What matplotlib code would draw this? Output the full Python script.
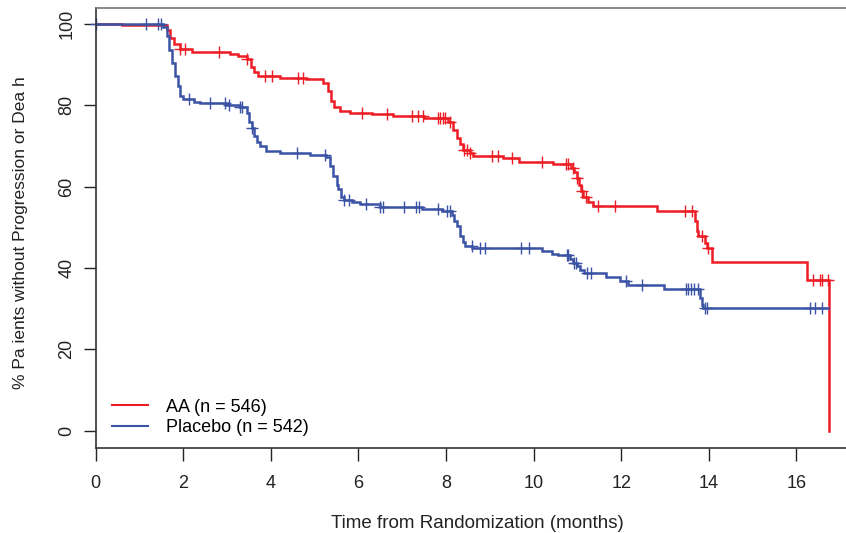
import numpy as np
import matplotlib
matplotlib.use("Agg")
import matplotlib.pyplot as plt

plt.rcParams['font.family'] = ['Liberation Sans', 'DejaVu Sans']

# ---- data: AA arm (step curve: time, survival after step) ----
aa_t = [0, 0.6, 1.62, 1.7, 1.8, 1.93, 2.2, 3.07, 3.25, 3.45, 3.55, 3.62, 3.7, 4.2, 4.8,
        5.2, 5.3, 5.38, 5.45, 5.58, 5.8, 6.3, 6.8, 7.5, 8.05, 8.15, 8.25, 8.32, 8.39,
        8.55, 8.62, 9.3, 9.67, 10.44, 10.85, 10.92, 10.98, 11.03, 11.08, 11.13, 11.25,
        11.36, 12.81, 13.68, 13.72, 13.76, 13.9, 13.95, 14.07, 16.25, 16.75]
aa_s = [100, 99.6, 98.5, 96.5, 95, 93.8, 93.2, 92.6, 92, 91.3, 89.5, 88.2, 87.2, 86.8, 86.5,
        85.5, 83.5, 81, 79.5, 78.6, 78.2, 77.8, 77.3, 76.9, 75.8, 74, 72, 70.5, 69.1,
        68.2, 67.5, 67.0, 66.1, 65.6, 64.5, 63.5, 62, 60.5, 59, 57.5, 56.2,
        55.2, 53.9, 51.5, 49, 47.8, 46.2, 44.9, 41.4, 37.1, 0]
aa_cens = [1.93, 2.05, 2.82, 3.45, 3.87, 4.03, 4.63, 4.74, 6.07, 6.65, 7.22, 7.36, 7.47,
           7.82, 7.87, 7.92, 7.98, 8.1, 8.4, 8.47, 8.55, 9.04, 9.19, 9.5, 10.2, 10.74,
           10.79, 10.9, 11.0, 11.1, 11.2, 11.48, 11.86, 13.46, 13.61, 13.84, 13.98,
           16.37, 16.54, 16.58, 16.73]

# ---- data: Placebo arm ----
pl_t = [0, 1.55, 1.62, 1.68, 1.75, 1.81, 1.89, 1.93, 2.0, 2.25, 2.38, 3.0, 3.3, 3.45, 3.5,
        3.56, 3.62, 3.68, 3.75, 3.9, 4.2, 4.9, 5.25, 5.35, 5.43, 5.5, 5.54, 5.6, 5.66,
        5.85, 6.04, 6.49, 7.44, 7.9, 8.13, 8.18, 8.24, 8.32, 8.38, 8.43, 8.6, 10.18,
        10.41, 10.56, 10.82, 10.9, 11.0, 11.06, 11.15, 11.65, 11.97, 12.16, 12.98,
        13.8, 13.84, 13.87, 16.73]
pl_s = [100, 99.3, 97, 93.5, 90.5, 87.2, 84.7, 82.3, 81.5, 80.9, 80.5, 80.1, 79.5, 78, 76,
        74.5, 72.5, 71, 70, 68.7, 68.3, 67.7, 67.2, 65, 62.6, 60.5, 59.3, 57.5, 56.8,
        56.2, 55.8, 55.0, 54.4, 54.0, 53, 51.5, 50.2, 47.8, 46.3, 45.3, 45.0, 44.1,
        43.5, 43.1, 42.2, 41.2, 40.4, 39.6, 38.8, 37.8, 36.9, 35.9, 34.8,
        32.5, 31, 30.1, 30.1]
pl_cens = [0.0, 1.14, 1.43, 1.49, 2.14, 2.61, 2.95, 3.05, 3.3, 3.34, 3.56, 4.59, 5.24,
           5.66, 5.79, 6.17, 6.49, 6.57, 7.03, 7.31, 7.39, 7.82, 8.02, 8.09, 8.59, 8.78,
           8.89, 9.7, 9.9, 10.76, 10.79, 10.92, 10.97, 11.21, 11.3, 12.11, 12.47, 13.47,
           13.53, 13.6, 13.66, 13.76, 13.9, 13.95, 16.31, 16.43, 16.58]

labels = ["AA (n = 546)", "Placebo (n = 542)"]
x_ticks = [0, 2, 4, 6, 8, 10, 12, 14, 16]
y_ticks = [0, 20, 40, 60, 80, 100]

RED = "#EE1C25"
BLUE = "#3A53A4"


def step_value(t_arr, s_arr, x):
    t_arr = np.asarray(t_arr)
    s_arr = np.asarray(s_arr)
    idx = np.searchsorted(t_arr, x, side='right') - 1
    return s_arr[np.clip(idx, 0, len(s_arr) - 1)]


fig = plt.figure(figsize=(8.46, 5.33), dpi=100)
ax = fig.add_axes([95.6 / 846, 84.7 / 533, 1 - 95.6 / 846, (448.3 - 8) / 533])

for t, s, c, cens, lab in [(aa_t, aa_s, RED, aa_cens, labels[0]),
                           (pl_t, pl_s, BLUE, pl_cens, labels[1])]:
    ax.plot(t, s, drawstyle='steps-post', color=c, lw=1.8, label=lab,
            solid_joinstyle='miter')
    cs = step_value(t, s, np.array(cens))
    ax.plot(cens, cs, linestyle='none', marker='+', ms=8, mew=1.0, color=c,
            clip_on=False)

ax.set_xlim(0, 17.13)
ax.set_ylim(-4.33, 103.9)
ax.set_xticks(x_ticks)
ax.set_yticks(y_ticks)
ax.set_yticklabels([str(v) for v in y_ticks], rotation=90, va='center')
ax.tick_params(axis='both', direction='out', length=9, width=1.0, labelsize=13,
               colors='#222222')
ax.tick_params(axis='x', pad=10.5)
ax.tick_params(axis='y', pad=5.7)

for sp in ['left', 'bottom']:
    ax.spines[sp].set_color('#333333')
    ax.spines[sp].set_linewidth(1.2)
ax.spines['top'].set_color('#777777')
ax.spines['top'].set_linewidth(1.2)
ax.spines['right'].set_visible(False)

ax.set_xlabel("Time from Randomization (months)", fontsize=13.5, labelpad=16.5,
              color='#222222', x=0.509)
ax.set_ylabel("% Pa ients without Progression or Dea h", fontsize=12.5, labelpad=22,
              color='#222222', y=0.49)

leg = ax.legend(loc='lower left', bbox_to_anchor=(0.012, 0.011), frameon=False,
                fontsize=13, handlelength=2.0, handletextpad=1.0, labelspacing=0.2,
                borderaxespad=0.0)
for line in leg.get_lines():
    line.set_linewidth(1.5)

fig.savefig("out.png", dpi=100)
